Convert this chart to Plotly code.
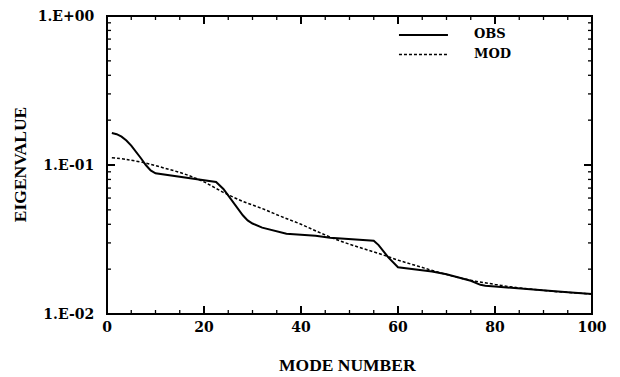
import math
import plotly.graph_objects as go

obs_mode = [1, 2, 3, 4, 5, 6, 7, 8, 9, 10, 12, 15, 17, 20, 22.5, 24, 26, 28, 29, 30, 32, 34, 37, 40, 43, 46, 50, 55, 56, 58, 60, 63, 67, 70, 73, 75, 77, 78, 80, 85, 90, 95, 100]
obs_val = [0.164, 0.161, 0.155, 0.146, 0.135, 0.123, 0.111, 0.100, 0.092, 0.088, 0.086, 0.084, 0.082, 0.079, 0.077, 0.069, 0.056, 0.046, 0.0425, 0.0405, 0.038, 0.0365, 0.0346, 0.034, 0.0335, 0.0325, 0.0318, 0.031, 0.029, 0.024, 0.0206, 0.020, 0.0193, 0.0185, 0.0175, 0.0167, 0.0157, 0.0155, 0.0153, 0.0148, 0.0144, 0.0140, 0.0136]

mod_mode = [1, 4, 8, 12, 16, 20, 24, 28, 32, 36, 40, 44, 48, 52, 56, 60, 64, 68, 72, 76, 80, 84, 88, 92, 96, 100]
mod_val = [0.112, 0.109, 0.103, 0.095, 0.087, 0.077, 0.0655, 0.057, 0.051, 0.045, 0.040, 0.035, 0.031, 0.028, 0.0255, 0.023, 0.021, 0.0192, 0.0177, 0.0166, 0.0158, 0.0151, 0.0146, 0.0142, 0.0139, 0.0136]

y_tickvals = [0.01, 0.1, 1.0]
y_ticktext = ["1.E-02", "1.E-01", "1.E+00"]
y_minor = [m * d for d in (0.01, 0.1) for m in range(2, 10)]
x_tickvals = [0, 20, 40, 60, 80, 100]
x_ticktext = ["0", "20", "40", "60", "80", "100"]
x_minor = [v for v in range(5, 100, 5) if v % 20]
legend_names = ["OBS", "MOD"]

fig = go.Figure()
fig.add_trace(go.Scatter(x=obs_mode, y=obs_val, mode="lines", name=legend_names[0], showlegend=False,
                         line=dict(color="black", width=2)))
fig.add_trace(go.Scatter(x=mod_mode, y=mod_val, mode="lines", name=legend_names[1], showlegend=False,
                         line=dict(color="black", width=1.5, dash="3px,2px", shape="spline")))

# inward tick marks on all four sides (shapes anchored to the axes)
x_lo, x_hi = x_tickvals[0], x_tickvals[-1]
ylog_lo, ylog_hi = math.log10(y_tickvals[0]), math.log10(y_tickvals[-1])


def y_frac(v):
    return (math.log10(v) - ylog_lo) / (ylog_hi - ylog_lo)


for vals, ln, w in ((x_tickvals[1:-1], 8, 2), (x_minor, 4, 1.3)):
    for v in vals:
        for anchor, sign in ((0, 1), (1, -1)):
            fig.add_shape(type="line", xref="x", yref="y domain", x0=v, x1=v,
                          ysizemode="pixel", yanchor=anchor, y0=0, y1=sign * ln,
                          line=dict(color="black", width=w), layer="above")
for vals, ln, w in ((y_tickvals[1:-1], 8, 2), (y_minor, 4, 1.3)):
    for v in vals:
        for anchor, sign in ((0, 1), (1, -1)):
            fig.add_shape(type="line", xref="x domain", yref="y domain", y0=y_frac(v), y1=y_frac(v),
                          xsizemode="pixel", xanchor=anchor, x0=0, x1=sign * ln,
                          line=dict(color="black", width=w), layer="above")

# hand-drawn legend like the original
legend_font = dict(family="DejaVu Serif", size=13, color="black")
for i, (name, dash, w) in enumerate(zip(legend_names, ["solid", "3px,2px"], [2, 1.5])):
    yy = 0.936 - i * 0.065
    fig.add_shape(type="line", xref="paper", yref="paper", x0=0.602, x1=0.703, y0=yy, y1=yy,
                  line=dict(color="black", width=w, dash=dash))
    fig.add_annotation(xref="paper", yref="paper", x=0.753, y=yy + 0.004, text="<b>" + name + "</b>",
                       showarrow=False, xanchor="left", yanchor="middle", font=legend_font)

# heavier frame around the plotting area
fig.add_shape(type="rect", xref="paper", yref="paper", x0=0, x1=1, y0=0, y1=1,
              line=dict(color="black", width=2), layer="above")

# axis titles
titlefont = dict(family="Liberation Serif", size=17.5, color="black")
fig.add_annotation(xref="paper", yref="paper", x=0.495, y=-0.171, text="<b>MODE NUMBER</b>",
                   showarrow=False, xanchor="center", yanchor="middle", font=titlefont)
fig.add_annotation(xref="paper", yref="paper", x=-0.179, y=0.5, text="<b>EIGENVALUE</b>", textangle=-90,
                   showarrow=False, xanchor="center", yanchor="middle", font=titlefont)

tickfont = dict(family="DejaVu Serif", size=14, color="black")
fig.update_layout(
    width=620, height=377,
    margin=dict(l=107, r=28, t=16, b=63),
    paper_bgcolor="white", plot_bgcolor="white",
    showlegend=False,
    xaxis=dict(range=[x_lo, x_hi], tickvals=x_tickvals, ticktext=["<b>" + t + "</b>" for t in x_ticktext],
               ticks="", showline=True, linecolor="black", mirror=True, automargin=False, showgrid=False,
               zeroline=False, tickfont=tickfont),
    yaxis=dict(type="log", range=[ylog_lo, ylog_hi], tickvals=y_tickvals,
               ticktext=["<b>" + t + "</b>" for t in y_ticktext],
               ticks="outside", ticklen=9, tickcolor="rgba(0,0,0,0)", showline=True, linecolor="black",
               mirror=True, automargin=False, showgrid=False, zeroline=False, tickfont=tickfont),
)

fig.write_html("out.html")
